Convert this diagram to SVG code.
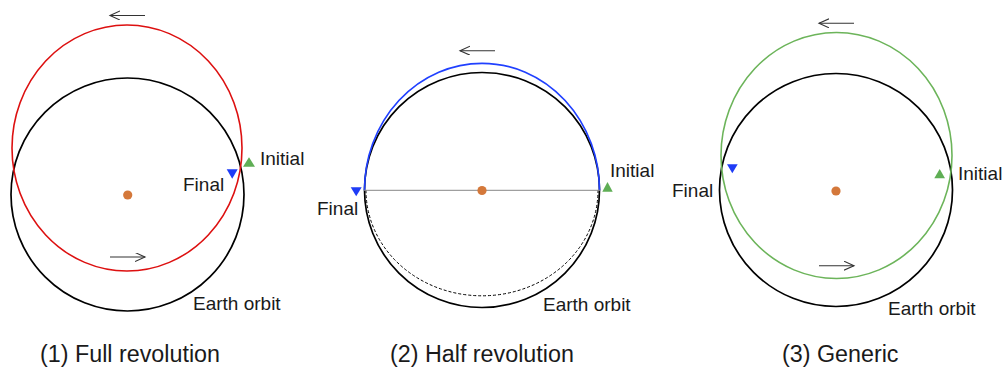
<svg xmlns="http://www.w3.org/2000/svg" width="1004" height="369" viewBox="0 0 1004 369">
<style>
text{font-family:"Liberation Sans",Arial,sans-serif;fill:#1a1a1a}
.lbl{font-size:19px}
.cap{font-size:23.3px}
.earth{fill:none;stroke:#000;stroke-width:1.7}
.sun{fill:#d4783a}
.fin{fill:#1f3cf6}
.ini{fill:#5fae55}
.arr{stroke:#333;stroke-width:1.1;fill:none}
</style>
<defs>
<marker id="ah" markerUnits="userSpaceOnUse" markerWidth="12" markerHeight="10" refX="10" refY="4.5" orient="auto">
<path d="M0,0 L10,4.5 L0,9" fill="none" stroke="#333" stroke-width="1.1"/>
</marker>
</defs>

<g id="panel1">
<g id="p1-earth"><circle class="earth" cx="127.5" cy="194.5" r="116.5"/></g>
<g id="p1-transfer"><ellipse cx="127" cy="148" rx="115" ry="123" fill="none" stroke="#dd1010" stroke-width="1.6"/></g>
<g id="p1-sun"><circle class="sun" cx="127.7" cy="195" r="4.6"/></g>
<g id="p1-initial"><polygon class="ini" points="243,166.7 255,166.7 249,157.3"/><text class="lbl" x="260" y="165">Initial</text></g>
<g id="p1-final"><polygon class="fin" points="226.7,169.3 237.7,169.3 232.2,178.7"/><text class="lbl" x="183" y="191">Final</text></g>
<g id="p1-earthlabel"><text class="lbl" x="193" y="310">Earth orbit</text></g>
<g id="p1-caption"><text class="cap" x="40" y="362">(1) Full revolution</text></g>
</g>

<g id="panel2">
<g id="p2-earth"><circle class="earth" cx="482" cy="190" r="117.5"/></g>
<g id="p2-transfer"><path d="M364.5,190.3 A117.5,127 0 0 1 599.5,190.3" fill="none" stroke="#2040ff" stroke-width="1.7"/></g>
<g id="p2-dashed"><path d="M366,190.3 A116,105.5 0 0 0 598,190.3" fill="none" stroke="#000" stroke-width="1" stroke-dasharray="3,2"/></g>
<g id="p2-axis"><line x1="364" y1="190.3" x2="600" y2="190.3" stroke="#888" stroke-width="1"/></g>
<g id="p2-sun"><circle class="sun" cx="482" cy="190.5" r="4.6"/></g>
<g id="p2-initial"><polygon class="ini" points="602.3,191.7 612.7,191.7 607.5,182"/><text class="lbl" x="610" y="177">Initial</text></g>
<g id="p2-final"><polygon class="fin" points="350.7,187.3 361.7,187.3 356.2,196.3"/><text class="lbl" x="317" y="215">Final</text></g>
<g id="p2-earthlabel"><text class="lbl" x="543" y="311">Earth orbit</text></g>
<g id="p2-caption"><text class="cap" x="390" y="362">(2) Half revolution</text></g>
</g>

<g id="panel3">
<g id="p3-earth"><circle class="earth" cx="836" cy="190" r="116.5"/></g>
<g id="p3-transfer"><ellipse cx="836.5" cy="155.5" rx="115.5" ry="123" fill="none" stroke="#6cb45a" stroke-width="1.6"/></g>
<g id="p3-sun"><circle class="sun" cx="836" cy="191" r="4.6"/></g>
<g id="p3-initial"><polygon class="ini" points="934.3,178.3 945,178.3 939.7,169"/><text class="lbl" x="958" y="180">Initial</text></g>
<g id="p3-final"><polygon class="fin" points="727,164.3 737.7,164.3 732.3,173.3"/><text class="lbl" x="672" y="197">Final</text></g>
<g id="p3-earthlabel"><text class="lbl" x="888" y="315">Earth orbit</text></g>
<g id="p3-caption"><text class="cap" x="782" y="362">(3) Generic</text></g>
</g>

<g id="connectors">
<line class="arr" x1="145" y1="15.5" x2="110" y2="15.5" marker-end="url(#ah)"/>
<line class="arr" x1="110" y1="257" x2="145" y2="257" marker-end="url(#ah)"/>
<line class="arr" x1="495" y1="50.7" x2="460" y2="50.7" marker-end="url(#ah)"/>
<line class="arr" x1="854" y1="23.3" x2="819" y2="23.3" marker-end="url(#ah)"/>
<line class="arr" x1="819" y1="265.7" x2="854" y2="265.7" marker-end="url(#ah)"/>
</g>
</svg>
